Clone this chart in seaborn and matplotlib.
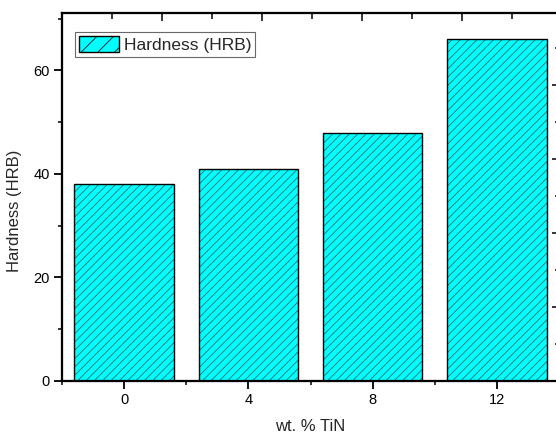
import matplotlib
matplotlib.use("Agg")
import matplotlib.pyplot as plt
from matplotlib.patches import Patch, Rectangle
from matplotlib.ticker import MultipleLocator
import seaborn as sns
import pandas as pd

# ---- data ----
wt_tin = [0, 4, 8, 12]
hardness = [38, 41, 48, 66]
x_ticks = [0, 4, 8, 12]
y_ticks = [0, 20, 40, 60]
series_label = "Hardness (HRB)"
x_label = "wt. % TiN"
y_label = "Hardness (HRB)"

sns.set_theme(style="white")
plt.rcParams['font.family'] = ['Liberation Sans', 'DejaVu Sans']
plt.rcParams['hatch.linewidth'] = 0.55
plt.rcParams['hatch.color'] = '#356262'

FILL = '#00FFFF'
HATCH_C = '#356262'

fig = plt.figure(figsize=(5.56, 4.37), dpi=100)
ax = fig.add_axes([62/556, 1-381/437, (559-62)/556, 368/437])

df = pd.DataFrame({"wt": wt_tin, "h": hardness})
sns.barplot(data=df, x="wt", y="h", native_scale=True, width=0.8, ax=ax,
            color=FILL, saturation=1, edgecolor=HATCH_C, linewidth=0)

bars = list(ax.patches)
for p in bars:
    p.set_hatch('////')
    p.set_edgecolor(HATCH_C)
    p.set_linewidth(0)
    ax.add_patch(Rectangle(p.get_xy(), p.get_width(), p.get_height(), fill=False,
                           edgecolor='black', linewidth=1.0, zorder=3))

ax.set_xlim(-2, 14)
ax.set_ylim(0, 71.1)
ax.set_xticks(x_ticks)
ax.set_xticklabels([str(v) for v in x_ticks])
ax.set_yticks(y_ticks)
ax.xaxis.set_minor_locator(MultipleLocator(2))
ax.yaxis.set_minor_locator(MultipleLocator(10))
ax.tick_params(axis='both', which='major', direction='out', length=6, width=1.3,
               labelsize=10.5, colors='black', pad=3,
               bottom=True, left=True, top=False, right=False)
ax.tick_params(axis='both', which='minor', direction='out', length=3, width=1.3,
               bottom=True, left=True, top=False, right=False)
ax.set_xlabel(x_label, fontsize=12, labelpad=8)
ax.set_ylabel(y_label, fontsize=12)
ax.yaxis.set_label_coords(-0.0805, 0.462)
for s in ax.spines.values():
    s.set_linewidth(1.5)
    s.set_color('black')

# independent top / right tick scales (inward)
axr = ax.twinx()
axr.set_ylim(0, 4.97)
axr.yaxis.set_major_locator(MultipleLocator(1))
axr.yaxis.set_minor_locator(MultipleLocator(0.5))
axr.tick_params(axis='y', which='major', direction='in', length=5, width=1.3, labelright=False)
axr.tick_params(axis='y', which='minor', direction='in', length=3, width=1.3)
axt = ax.twiny()
axt.set_xlim(0, 4.97)
axt.xaxis.set_major_locator(MultipleLocator(1))
axt.xaxis.set_minor_locator(MultipleLocator(0.5))
axt.tick_params(axis='x', which='major', direction='in', length=6, width=1.3, labeltop=False)
axt.tick_params(axis='x', which='minor', direction='in', length=4, width=1.3)
for a in (axr, axt):
    for s in a.spines.values():
        s.set_linewidth(1.5)
        s.set_color('black')

handle = Patch(facecolor=FILL, edgecolor='black', hatch='//', linewidth=1.0, label=series_label)
leg = ax.legend(handles=[handle], loc='upper left', bbox_to_anchor=(13/497, (381-32)/368),
                borderaxespad=0, fontsize=12.5, frameon=True, fancybox=False,
                handlelength=2.3, handleheight=1.1, borderpad=0.22, handletextpad=0.3)
leg.get_frame().set_edgecolor('#444444')
leg.get_frame().set_linewidth(0.8)

fig.savefig("out.png", dpi=100)
